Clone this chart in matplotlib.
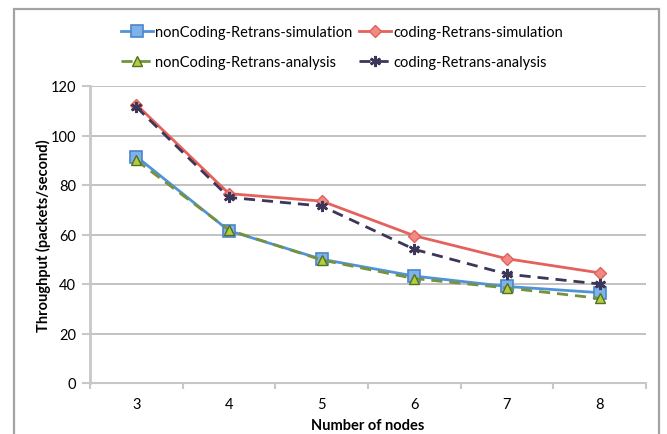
import matplotlib
matplotlib.use("Agg")
import matplotlib.pyplot as plt
from matplotlib.patches import Rectangle

plt.rcParams['font.family'] = ['Lato', 'DejaVu Sans']

nodes = [3, 4, 5, 6, 7, 8]
noncoding_sim = [91.5, 61.5, 50.0, 43.2, 39.0, 36.5]
coding_sim = [112.5, 76.5, 73.5, 59.5, 50.2, 44.5]
noncoding_ana = [90.0, 61.8, 49.7, 42.2, 38.4, 34.2]
coding_ana = [111.5, 75.0, 71.5, 54.0, 44.0, 40.0]
y_ticks = [0, 20, 40, 60, 80, 100, 120]

W, H = 667, 435
fig = plt.figure(figsize=(W / 100, H / 100), dpi=100)
fig.patch.set_facecolor('white')

# outer chart border
fig.add_artist(Rectangle((14 / W, -0.05), (659 - 14) / W, (H - 10) / H + 0.05,
                         transform=fig.transFigure, fill=False,
                         edgecolor='#a3a3a3', linewidth=1.6))

ax = fig.add_axes([90 / W, (H - 384) / H, (646 - 90) / W, (384 - 87) / H])
x = list(range(len(nodes)))

l1, = ax.plot(x, noncoding_sim, color='#4f93d8', lw=2.0, marker='s', ms=8,
              mfc='#7fb2ea', mec='#4a86c8', mew=1.2, zorder=3)
l2, = ax.plot(x, coding_sim, color='#e5615b', lw=2.0, marker='D', ms=6.5,
              mfc='#f08a84', mec='#e0605a', mew=1.0, zorder=3)
l3, = ax.plot(x, noncoding_ana, color='#76923c', lw=2.0, ls=(0, (4, 2.5)),
              marker='^', ms=6.5, mfc='#b3cf3f', mec='#55701f', mew=1.0, zorder=4)
l4, = ax.plot(x, coding_ana, color='#3c3659', lw=2.0, ls=(0, (4, 2.5)),
              marker=(6, 2, 0), ms=8, mec='#3c3659', mew=1.8, zorder=4)

ax.set_xlim(-0.5, len(nodes) - 0.5)
ax.set_ylim(0, 120)
ax.set_yticks(y_ticks)
ax.set_yticklabels([str(v) for v in y_ticks], fontsize=10.5)
ax.set_xticks(x)
ax.set_xticklabels([str(n) for n in nodes], fontsize=10.5)
ax.set_xticks([i - 0.5 for i in range(len(nodes) + 1)], minor=True)
ax.tick_params(axis='x', which='major', length=0, pad=10)
ax.tick_params(axis='x', which='minor', length=4, color='#c8c8c8', width=1.5, direction='out')
ax.tick_params(axis='y', length=6, color='#c8c8c8', width=1.5, pad=4)

ax.grid(axis='y', color='#b8b8b8', lw=1.2)
ax.set_axisbelow(True)
for side in ['top', 'right']:
    ax.spines[side].set_visible(False)
ax.spines['left'].set_color('#c8c8c8')
ax.spines['left'].set_linewidth(2)
ax.spines['bottom'].set_color('#c8c8c8')
ax.spines['bottom'].set_linewidth(1.5)

ax.set_xlabel('Number of nodes', fontsize=10.5, fontweight='bold', labelpad=5)
ax.set_ylabel('Throughput (packets/second)', fontsize=10.5, fontweight='bold', labelpad=0)

fig.legend([l1, l3, l2, l4],
           ['nonCoding-Retrans-simulation', 'nonCoding-Retrans-analysis',
            'coding-Retrans-simulation', 'coding-Retrans-analysis'],
           ncol=2, loc='center', bbox_to_anchor=(342 / W, 1 - 48 / H),
           frameon=False, fontsize=10.5, handlelength=2.2, handletextpad=0.1,
           columnspacing=0.5, labelspacing=1.05, borderpad=0)

fig.savefig('out.png', dpi=100, facecolor='white')
